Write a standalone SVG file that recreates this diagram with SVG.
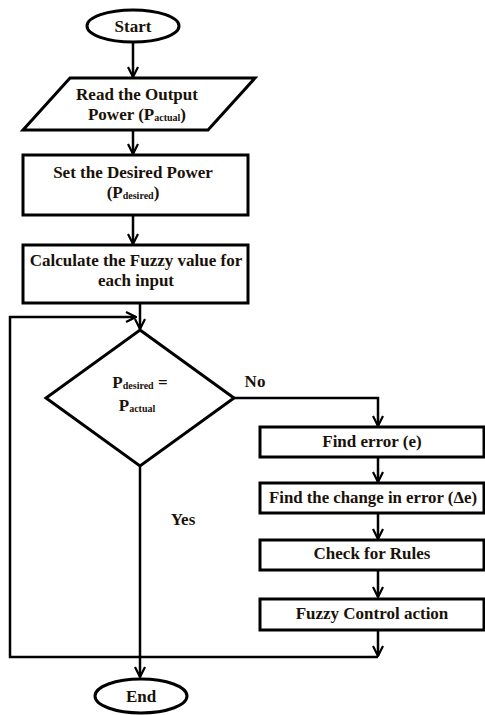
<svg xmlns="http://www.w3.org/2000/svg" width="485" height="715" viewBox="0 0 485 715">
<style>
.s{fill:#fff;stroke:#000;stroke-width:3}
.t{font-family:"Liberation Serif","Times New Roman",serif;font-weight:bold;font-size:17px;fill:#1a1208;text-anchor:middle}
.sub{font-size:10px}
.c{fill:none;stroke:#000;stroke-width:2.5}
</style>
<defs>
<marker id="a" viewBox="0 0 12 12" refX="11" refY="6" markerWidth="12" markerHeight="12" markerUnits="userSpaceOnUse" orient="auto">
<path d="M1,1 L11,6 L1,11" fill="none" stroke="#000" stroke-width="2.2"/>
</marker>
</defs>
<g id="connectors">
<line class="c" x1="133" y1="42" x2="133" y2="77" marker-end="url(#a)"/>
<line class="c" x1="133" y1="130" x2="133" y2="154" marker-end="url(#a)"/>
<line class="c" x1="133" y1="215" x2="133" y2="244" marker-end="url(#a)"/>
<line class="c" x1="140" y1="303" x2="140" y2="329" marker-end="url(#a)"/>
<polyline class="c" points="233,398 378,398 378,426" marker-end="url(#a)"/>
<line class="c" x1="378" y1="457" x2="378" y2="482" marker-end="url(#a)"/>
<line class="c" x1="378" y1="513" x2="378" y2="539" marker-end="url(#a)"/>
<line class="c" x1="378" y1="570" x2="378" y2="597" marker-end="url(#a)"/>
<line class="c" x1="378" y1="630" x2="378" y2="656" marker-end="url(#a)"/>
<polyline class="c" points="378,657 10,657 10,317 136,317" marker-end="url(#a)"/>
<line class="c" x1="140" y1="466" x2="140" y2="677" marker-end="url(#a)"/>
<text class="t" x="255" y="387">No</text>
<text class="t" x="183" y="525">Yes</text>
</g>
<g id="start">
<ellipse class="s" cx="133" cy="26" rx="46" ry="16"/>
<text class="t" x="133" y="32">Start</text>
</g>
<g id="read">
<polygon class="s" points="70,78 255,78 208,130 23,130"/>
<text class="t" x="137" y="100">Read the Output</text>
<text class="t" x="137" y="120">Power (P<tspan class="sub" dy="1">actual</tspan><tspan dy="-1">)</tspan></text>
</g>
<g id="set">
<rect class="s" x="23" y="155" width="225" height="60"/>
<text class="t" x="133" y="178">Set the Desired Power</text>
<text class="t" x="133" y="198">(P<tspan class="sub" dy="1">desired</tspan><tspan dy="-1">)</tspan></text>
</g>
<g id="calc">
<rect class="s" x="23" y="245" width="225" height="58"/>
<text class="t" x="136" y="266">Calculate the Fuzzy value for</text>
<text class="t" x="136" y="286">each input</text>
</g>
<g id="decision">
<polygon class="s" points="140,330 234,398 140,466 46,398"/>
<text class="t" x="140" y="388">P<tspan class="sub" dy="1">desired</tspan><tspan dy="-1"> =</tspan></text>
<text class="t" x="137" y="411">P<tspan class="sub" dy="1">actual</tspan></text>
</g>
<g id="finderror">
<rect class="s" x="260" y="427" width="224" height="30"/>
<text class="t" x="372" y="447">Find error (e)</text>
</g>
<g id="findchange">
<rect class="s" x="260" y="483" width="224" height="30"/>
<text class="t" x="373" y="503" textLength="208" lengthAdjust="spacingAndGlyphs">Find the change in error (Δe)</text>
</g>
<g id="rules">
<rect class="s" x="260" y="540" width="224" height="30"/>
<text class="t" x="372" y="559">Check for Rules</text>
</g>
<g id="action">
<rect class="s" x="260" y="599" width="224" height="31"/>
<text class="t" x="372" y="619">Fuzzy Control action</text>
</g>
<g id="end">
<ellipse class="s" cx="141" cy="696" rx="46" ry="17"/>
<text class="t" x="141" y="702">End</text>
</g>
</svg>
